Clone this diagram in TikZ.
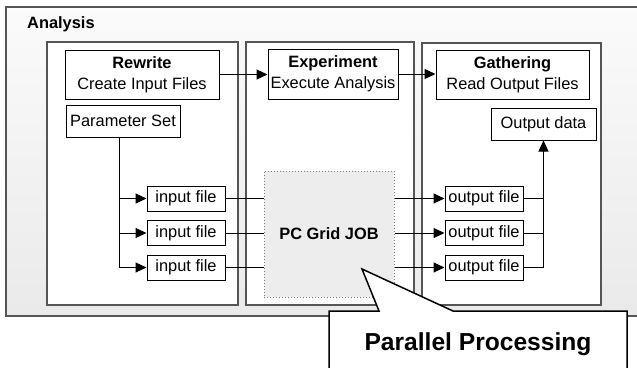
\documentclass[tikz,border=0pt]{standalone}
\usepackage{fontspec}
\setmainfont{Liberation Sans}
\usetikzlibrary{arrows.meta}
\definecolor{outerfill}{HTML}{F1F1F1}
\definecolor{gridfill}{HTML}{EDEDED}
\definecolor{colline}{HTML}{555555}
\tikzset{
  x=1pt, y=-1pt,
  every node/.style={font=\fontsize{16.4}{21}\selectfont, inner sep=0pt},
  box/.style={draw=black, line width=1pt, fill=white, align=center},
  colbox/.style={draw=colline, line width=1.2pt, fill=white},
  conn/.style={draw=black, line width=1pt},
  arr/.style={conn, -{Triangle[length=11pt,width=10pt]}},
}
\begin{document}
\begin{tikzpicture}
\useasboundingbox (0,0) rectangle (637,367);
% outer box
\path[draw=colline, line width=1.2pt, top color=white!70!outerfill, bottom color=outerfill!97!black] (6,7) rectangle (650,316);
\node[anchor=west, font=\fontsize{16.4}{21}\selectfont\bfseries] (ana) at (27,24) {Analysis};
% columns
\path[colbox] (47,42) rectangle (238,305);
\path[colbox] (246,42) rectangle (414,305);
\path[colbox] (422,43) rectangle (601,305);
% top boxes
\node[box, minimum width=154pt, minimum height=49pt] (rew) at (142,74.5) {\textbf{Rewrite}\\Create Input Files};
\node[box, minimum width=130pt, minimum height=50pt] (exp) at (333,74) {\textbf{Experiment}\\Execute Analysis};
\node[box, minimum width=153pt, minimum height=49pt] (gat) at (512.5,74.5) {\textbf{Gathering}\\Read Output Files};
\node[box, minimum width=114pt, minimum height=32pt] (par) at (123,121) {Parameter Set};
\node[box, minimum width=105pt, minimum height=32pt] (odat) at (543.5,124) {Output data};
% grid job
\node[draw=gray, dotted, line width=1pt, fill=gridfill, minimum width=130pt, minimum height=126pt, font=\fontsize{16.4}{21}\selectfont\bfseries] (grid) at (329,234) {PC Grid JOB};
% input / output files
\node[box, minimum width=78pt, minimum height=25pt] (in1) at (186,198.5) {input file};
\node[box, minimum width=78pt, minimum height=25pt] (in2) at (186,233) {input file};
\node[box, minimum width=78pt, minimum height=25pt] (in3) at (186,267.5) {input file};
\node[box, minimum width=78pt, minimum height=25pt] (out1) at (484,198.5) {output file};
\node[box, minimum width=78pt, minimum height=25pt] (out2) at (484,233) {output file};
\node[box, minimum width=78pt, minimum height=25pt] (out3) at (484,267.5) {output file};
% top arrows
\draw[arr] (rew.east) -- (exp.west |- rew.east);
\draw[arr] (exp.east) -- (gat.west |- exp.east);
% parameter set tree
\coordinate (ptop) at (119,137);
\coordinate (pb1) at (119,198.5);
\coordinate (pb2) at (119,233);
\coordinate (pb3) at (119,267.5);
\draw[conn] (ptop) -- (pb3);
\draw[arr] (pb1) -- (in1.west);
\draw[arr] (pb2) -- (in2.west);
\draw[arr] (pb3) -- (in3.west);
% input to grid
\draw[conn] (in1.east) -- (grid.west |- in1.east);
\draw[conn] (in2.east) -- (grid.west |- in2.east);
\draw[conn] (in3.east) -- (grid.west |- in3.east);
% grid to output
\draw[arr] (grid.east |- out1.west) -- (out1.west);
\draw[arr] (grid.east |- out2.west) -- (out2.west);
\draw[arr] (grid.east |- out3.west) -- (out3.west);
% gather outputs
\coordinate (g1) at (543.5,198.5);
\coordinate (g2) at (543.5,233);
\coordinate (g3) at (543.5,267.5);
\draw[conn] (out1.east) -- (g1);
\draw[conn] (out2.east) -- (g2);
\draw[conn] (out3.east) -- (g3) -- (g1);
\draw[arr] (g1) -- (odat.south);
% callout
\coordinate (tip) at (362,269);
\draw[line width=1.5pt, fill=white] (329,311) -- (379,311) -- (tip) -- (453,311) -- (627,311) -- (627,380) -- (329,380) -- cycle;
\node[anchor=base, font=\fontsize{24.6}{28}\selectfont\bfseries] (pp) at (478,350) {Parallel Processing};
\end{tikzpicture}
\end{document}
